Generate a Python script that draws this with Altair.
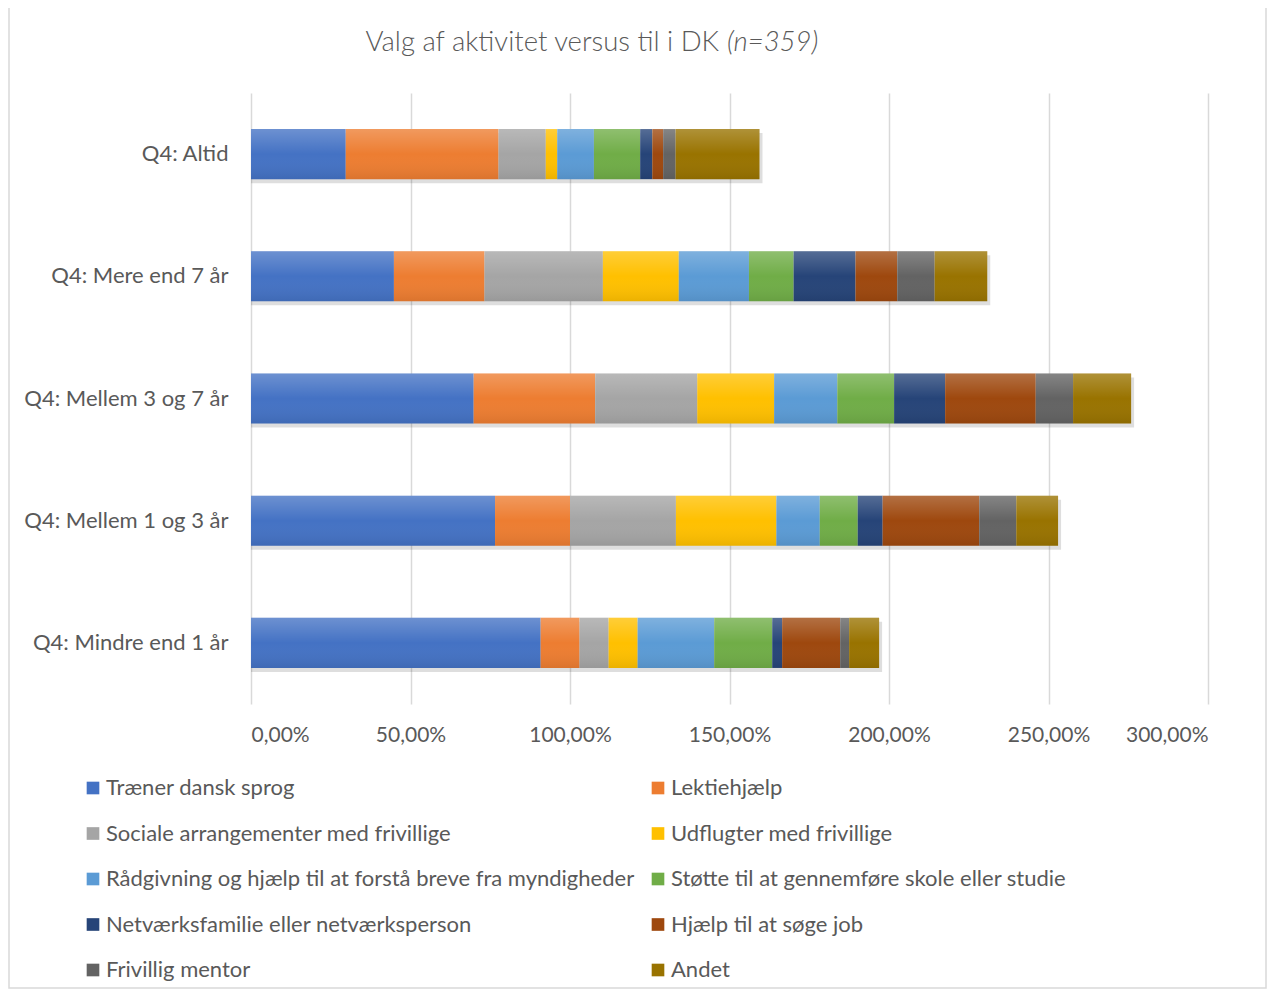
import altair as alt
import pandas as pd

categories = ["Q4: Altid", "Q4: Mere end 7 år", "Q4: Mellem 3 og 7 år",
              "Q4: Mellem 1 og 3 år", "Q4: Mindre end 1 år"]

series_names = [
    "Træner dansk sprog",
    "Lektiehjælp",
    "Sociale arrangementer med frivillige",
    "Udflugter med frivillige",
    "Rådgivning og hjælp til at forstå breve fra myndigheder",
    "Støtte til at gennemføre skole eller studie",
    "Netværksfamilie eller netværksperson",
    "Hjælp til at søge job",
    "Frivillig mentor",
    "Andet",
]
series_colors = ["#4472C4", "#ED7D31", "#A5A5A5", "#FFC000", "#5B9BD5",
                 "#70AD47", "#264478", "#9E480E", "#636363", "#997300"]

# values in percent, one list per series, in category order
traener   = [29.7, 44.8, 69.8, 76.5, 90.8]
lektie    = [47.9, 28.4, 38.1, 23.5, 12.2]
sociale   = [14.8, 37.1, 32.0, 33.2, 9.1]
udflugter = [3.6, 23.8, 24.1, 31.5, 9.1]
raadgiv   = [11.5, 22.0, 19.8, 13.6, 24.0]
stoette   = [14.5, 14.0, 17.8, 11.9, 18.2]
netvaerk  = [3.8, 19.4, 16.0, 7.8, 3.1]
job       = [3.4, 13.1, 28.4, 30.3, 18.2]
mentor    = [3.9, 11.7, 11.7, 11.6, 2.8]
andet     = [26.3, 16.5, 18.2, 13.1, 9.4]

series_values = [traener, lektie, sociale, udflugter, raadgiv,
                 stoette, netvaerk, job, mentor, andet]

x_ticks = [0, 50, 100, 150, 200, 250, 300]

rows = []
for si, (name, vals) in enumerate(zip(series_names, series_values)):
    for ci, cat in enumerate(categories):
        rows.append({"category": cat, "series": name, "value": vals[ci], "idx": si})
df = pd.DataFrame(rows)

FONT = "Lato"
GREY = "#595959"

y_enc = alt.Y("category:N", sort=categories, title=None,
              scale=alt.Scale(paddingInner=0.59, paddingOuter=0.295),
              axis=alt.Axis(labelFontSize=22, labelColor=GREY, labelFont=FONT,
                            labelPadding=23, labelLimit=400,
                            ticks=False, domain=False, grid=False))

x_enc = alt.X("value:Q", stack="zero", title=None,
              scale=alt.Scale(domain=[0, 300], nice=False),
              axis=alt.Axis(values=x_ticks, grid=True, gridColor="#D9D9D9", gridWidth=1.5,
                            ticks=False, domain=False, labelFontSize=21, labelColor=GREY,
                            labelFont=FONT, labelPadding=20,
                            labelExpr="replace(format(datum.value, '.2f'), '.', ',') + '%'"))

base = alt.Chart(df)

shadow = base.mark_bar(color="#000000", opacity=0.13, yOffset=4, xOffset=3).encode(
    y=y_enc,
    x=alt.X("sum(value):Q", scale=alt.Scale(domain=[0, 300], nice=False)),
)

bars = base.mark_bar(strokeWidth=0).encode(
    y=y_enc,
    x=x_enc,
    color=alt.Color("series:N", sort=series_names,
                    scale=alt.Scale(domain=series_names, range=series_colors),
                    legend=alt.Legend(title=None, orient="none", legendX=-169, legendY=684,
                                      columns=2, direction="horizontal",
                                      symbolType="square", symbolSize=160, symbolStrokeWidth=0,
                                      labelFontSize=22, labelColor=GREY, labelFont=FONT,
                                      labelOffset=2, rowPadding=23.5, columnPadding=12,
                                      labelLimit=700)),
    order=alt.Order("idx:Q", sort="ascending"),
)

overlay = base.mark_bar(
    color=alt.Gradient(
        gradient="linear", x1=0, x2=0, y1=0, y2=1,
        stops=[alt.GradientStop(color="rgba(255,255,255,0.22)", offset=0),
               alt.GradientStop(color="rgba(255,255,255,0)", offset=0.5),
               alt.GradientStop(color="rgba(0,0,0,0.08)", offset=1)])
).encode(
    y=y_enc,
    x=alt.X("sum(value):Q", scale=alt.Scale(domain=[0, 300], nice=False)),
)

title_main = alt.Chart(pd.DataFrame({"t": ["Valg af aktivitet versus til i DK"]})).mark_text(
    align="right", baseline="alphabetic", font=FONT, fontSize=27.5, fontWeight=300, color=GREY
).encode(text="t:N", x=alt.value(468), y=alt.value(-42))

title_n = alt.Chart(pd.DataFrame({"t": ["(n=359)"]})).mark_text(
    align="left", baseline="alphabetic", font=FONT, fontSize=27.5, fontWeight=300,
    fontStyle="italic", color=GREY
).encode(text="t:N", x=alt.value(476), y=alt.value(-42))

border = alt.Chart(pd.DataFrame({"a": [0]})).mark_rect(
    fill="transparent", stroke="#D9D9D9", strokeWidth=1.5
).encode(x=alt.value(-242), x2=alt.value(1015), y=alt.value(-90), y2=alt.value(895))

chart = alt.layer(border, shadow, bars, overlay, title_main, title_n).properties(
    width=957, height=611,
    padding={"left": 243, "top": 85, "right": 59, "bottom": 285},
    autosize=alt.AutoSizeParams(type="none"),
).configure(background="white").configure_view(stroke=None)

chart.save("out.html", embed_options={"renderer": "svg", "actions": False})
